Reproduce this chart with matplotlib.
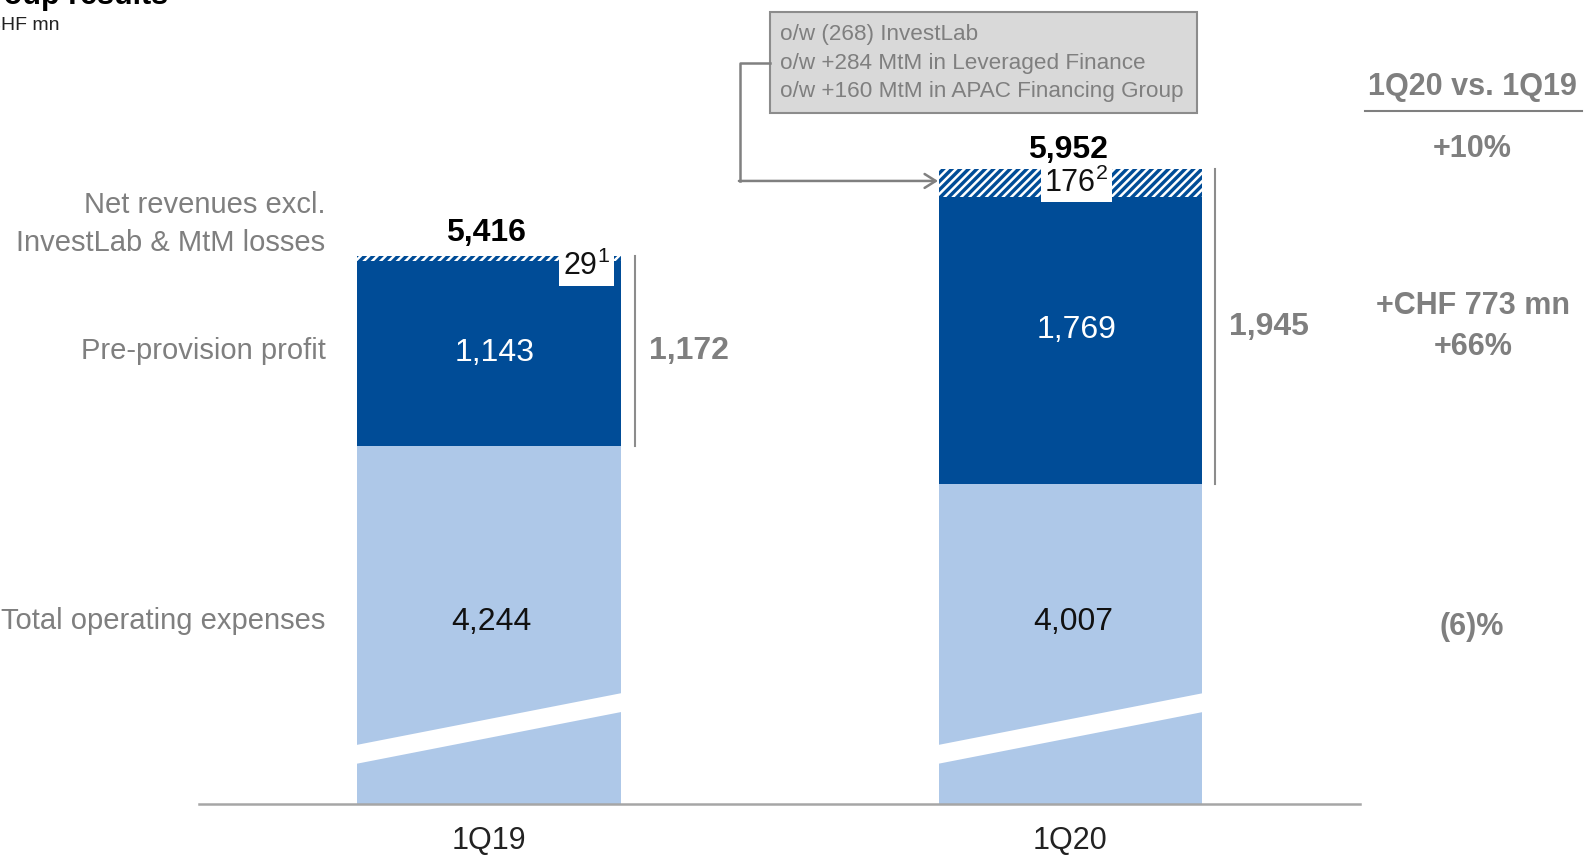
import matplotlib.pyplot as plt
import numpy as np
from matplotlib.lines import Line2D
from matplotlib.patches import Polygon, Rectangle, FancyArrowPatch

# Group results, CHF mn
quarters = ['1Q19', '1Q20']
opex = [4244, 4007]
pre_provision = [1143, 1769]
losses = [29, 176]
loss_notes = ['1', '2']
net_revenues = [5416, 5952]
profit_totals = [1172, 1945]

row_labels = ['Net revenues excl.\nInvestLab & MtM losses',
              'Pre-provision profit',
              'Total operating expenses']
change_header = '1Q20 vs. 1Q19'
changes = ['+10%', '+CHF 773 mn\n+66%', '(6)%']
box_lines = ['o/w (268) InvestLab',
             'o/w +284 MtM in Leveraged Finance',
             'o/w +160 MtM in APAC Financing Group']

DARK = '#004c97'
LIGHT = '#aec8e8'
GREY = '#7f7f7f'
FONT = 'Liberation Sans'

plt.rcParams['font.family'] = [FONT, 'DejaVu Sans']
plt.rcParams['mathtext.fontset'] = 'custom'
plt.rcParams['mathtext.rm'] = FONT
plt.rcParams['hatch.linewidth'] = 1.8

W, H = 1585, 856
fig = plt.figure(figsize=(W / 100, H / 100), dpi=100)

# layout positions below are given on a 1568-wide grid
S = W / 1568


def fx(px):
    return px * S / W


def fy(py):
    return 1 - py * S / H


# axis is cut: the value scale starts well above zero
ax = fig.add_axes([fx(197), fy(795), fx(1345) - fx(197), 1 - fy(795)])
ax.set_xlim(-0.498, 1.497)
ax.set_ylim(2040, 6993)
ax.axis('off')

x = np.arange(len(quarters))
bw = 0.4535
ax.bar(x, opex, width=bw, color=LIGHT, linewidth=0)
ax.bar(x, pre_provision, width=bw, bottom=opex, color=DARK, linewidth=0)
tops = np.add(opex, pre_provision)
ax.bar(x, losses, width=bw, bottom=tops, color=DARK, edgecolor='white',
       hatch='////', linewidth=0)

# white slanted band marking the axis break
for xi in x:
    l, r = xi - bw / 2 - 0.01, xi + bw / 2 + 0.01
    ax.add_patch(Polygon([(l, 2337 - 58), (r, 2669 - 58), (r, 2669 + 58), (l, 2337 + 58)],
                         closed=True, facecolor='white', edgecolor='none', zorder=3))

ax.axhline(2040, color='#a6a6a6', lw=1.8, clip_on=False, zorder=4)

for xi, q in zip(x, quarters):
    ax.text(xi, 1810, q, ha='center', va='center', fontsize=22, color='#222222')

# values inside the bars
for xi, v in zip(x, opex):
    ax.text(xi + 0.005, 3160, f'{v:,}', ha='center', va='center', fontsize=23, color='#111111')
for xi, b, v, dy in zip(x, opex, pre_provision, [0, 70]):
    ax.text(xi + 0.01, b + v / 2 + dy, f'{v:,}', ha='center', va='center', fontsize=23,
            color='white')

# totals above the bars
for xi, v, off in zip(x, net_revenues, [5.5, 2.5]):
    ax.annotate(f'{v:,}', (xi - 0.005, v), xytext=(0, off), textcoords='offset points',
                ha='center', va='bottom', fontsize=23, fontweight='bold', color='black')

# loss values in white boxes
for xi, b, v, n, dx, dy in zip(x, tops, losses, loss_notes, [0.168, 0.01], [-6, 0]):
    ax.annotate(f'{v}$^{{{n}}}$', (xi + dx, b + v / 2), xytext=(0, dy),
                textcoords='offset points', ha='center', va='center', fontsize=22,
                color='#111111', zorder=5,
                bbox=dict(boxstyle='square,pad=0.12', fc='white', ec='none'))

# brackets showing pre-provision profit incl. losses
for xi, b, t, v, lx in zip(x, opex, net_revenues, profit_totals, [0.252, 0.248]):
    ax.plot([xi + lx, xi + lx], [b, t], color='#8c8c8c', lw=1.5, clip_on=False)
    ax.annotate(f'{v:,}', (xi + lx, (b + t) / 2), xytext=(10, 0), textcoords='offset points',
                ha='left', va='center', fontsize=23, fontweight='bold', color=GREY)

# row labels on the left
fig.text(fx(322), fy(222), row_labels[0], ha='right', va='center', fontsize=21,
         color=GREY, linespacing=1.46)
fig.text(fx(322), fy(347), row_labels[1], ha='right', va='center', fontsize=21, color=GREY)
fig.text(fx(322), fy(614), row_labels[2], ha='right', va='center', fontsize=21, color=GREY)

# change column on the right
fig.text(fx(1457), fy(86), change_header, ha='center', va='center', fontsize=22,
         fontweight='bold', color=GREY)
fig.add_artist(Line2D([fx(1350), fx(1565)], [fy(110), fy(110)], color=GREY, lw=1.5))
fig.text(fx(1456), fy(147), changes[0], ha='center', va='center', fontsize=22,
         fontweight='bold', color=GREY)
fig.text(fx(1457), fy(323), changes[1], ha='center', va='center', fontsize=22,
         fontweight='bold', color=GREY, linespacing=1.5)
fig.text(fx(1456), fy(620), changes[2], ha='center', va='center', fontsize=22,
         fontweight='bold', color=GREY)

# callout box for the 1Q20 losses
fig.add_artist(Rectangle((fx(762), fy(112)), fx(1184) - fx(762), fy(12) - fy(112),
                         facecolor='#d9d9d9', edgecolor='#8c8c8c', lw=1.5))
for i, line in enumerate(box_lines):
    fig.text(fx(772), fy(34 + 28.5 * i), line, ha='left', va='center', fontsize=16.2, color=GREY)
fig.add_artist(Line2D([fx(762), fx(732), fx(732)], [fy(62), fy(62), fy(179)],
                      color='#808080', lw=1.8))
fig.add_artist(FancyArrowPatch((fx(731), fy(179)), (fx(928), fy(179)),
                               transform=fig.transFigure, arrowstyle='->,head_length=8,head_width=5',
                               color='#808080', lw=1.8, shrinkA=0, shrinkB=0))

# heading, cut at the edge of the page
fig.text(fx(-32), fy(4), 'Group results', ha='left', va='baseline', fontsize=22,
         fontweight='bold', color='black')
fig.text(fx(-13), fy(30), 'CHF mn', ha='left', va='baseline', fontsize=14, color='#222222')

fig.savefig('out.png', dpi=100)
